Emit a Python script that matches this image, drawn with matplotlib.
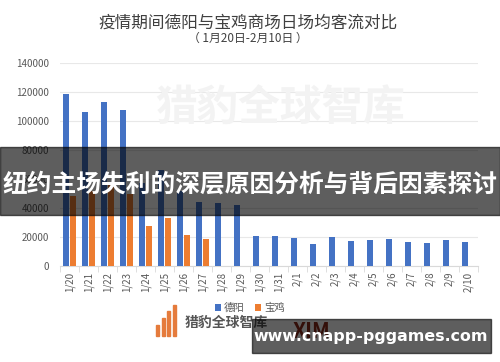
import numpy as np
import matplotlib
matplotlib.use('Agg')
import matplotlib.pyplot as plt
from matplotlib.patches import Rectangle

plt.rcParams['font.family'] = ['Noto Sans CJK SC', 'DejaVu Sans']

# dados (客流, pessoas por dia)
datas = ['1/20', '1/21', '1/22', '1/23', '1/24', '1/25', '1/26', '1/27', '1/28', '1/29', '1/30',
         '1/31', '2/1', '2/2', '2/3', '2/4', '2/5', '2/6', '2/7', '2/8', '2/9', '2/10']
deyang = [118500, 106500, 113300, 107500, 57000, 66000, 52000, 44300, 43700, 42000, 20700,
          20700, 19100, 15200, 19800, 17200, 17900, 18900, 16600, 16100, 17900, 16300]
baoji = [48000, 52000, 58000, 50000, 27800, 33300, 21400, 18600, np.nan, np.nan, np.nan,
         np.nan, np.nan, np.nan, np.nan, np.nan, np.nan, np.nan, np.nan, np.nan, np.nan, np.nan]
yticks = [0, 20000, 40000, 60000, 80000, 100000, 120000, 140000]

cinza = '#595959'
fig = plt.figure(figsize=(5, 3.62), dpi=100)
ax = fig.add_axes([0.12, 0.265, 0.836, 0.561])

# marca d'agua de fundo
fig.text(0.56, 0.70, '猎豹全球智库', fontsize=30, fontweight='bold', color='#f3f3f3',
         ha='center', va='center', zorder=0)

x = np.arange(len(datas))
ax.bar(x - 0.2, deyang, width=0.32, color='#4472C4', label='德阳', zorder=3)
ax.bar(x + 0.2, baoji, width=0.32, color='#ED7D31', label='宝鸡', zorder=3)

ax.set_xlim(-0.5, len(datas) - 0.5)
ax.set_ylim(0, 140000)
ax.set_yticks(yticks)
ax.set_yticklabels([str(v) for v in yticks], fontsize=7, color=cinza)
ax.set_xticks(x)
ax.set_xticklabels(datas, rotation=90, fontsize=7, color=cinza)
ax.set_xticks(np.arange(len(datas) + 1) - 0.5, minor=True)
ax.tick_params(axis='x', which='major', length=0, pad=4)
ax.tick_params(axis='x', which='minor', length=4, color='#d9d9d9')
ax.tick_params(axis='y', length=0, pad=8)
ax.grid(axis='y', color='#e8e8e8', linewidth=0.8, zorder=0)
ax.set_axisbelow(True)
for s in ['top', 'right', 'left']:
    ax.spines[s].set_visible(False)
ax.spines['bottom'].set_color('#d9d9d9')
ax.patch.set_alpha(0)

fig.text(0.496, 0.937, '疫情期间德阳与宝鸡商场日场均客流对比', fontsize=12, color='#404040',
         ha='center', va='center')
fig.text(0.496, 0.895, '（ 1月20日-2月10日 ）', fontsize=8.5, color='#404040', ha='center', va='center')

fig.legend(loc='center', bbox_to_anchor=(0.5, 0.149), ncol=2, frameon=False, fontsize=7.5,
           handlelength=0.6, handleheight=0.6, handletextpad=0.3, columnspacing=1.0,
           labelcolor=cinza)

# logo inferior
for i, h in enumerate([0.03, 0.05, 0.07, 0.085]):
    fig.add_artist(Rectangle((0.312 + i * 0.011, 0.072), 0.006, h, color='#E57B3C',
                             transform=fig.transFigure))
fig.text(0.37, 0.107, '猎豹全球智库', fontsize=10, fontweight='bold', color='#555555',
         ha='left', va='center')
fig.text(0.623, 0.085, 'XIM', fontsize=15, fontweight='bold', color='#8b2a1a',
         ha='center', va='center')

# faixa sobreposta
fig.add_artist(Rectangle((0, 1 - 215 / 362), 1, 68 / 362, color='black', alpha=0.63,
                         transform=fig.transFigure, zorder=10))
fig.text(0.5, 0.49, '纽约主场失利的深层原因分析与背后因素探讨', fontsize=17.8,
         fontweight='bold', color='white', ha='center', va='center', zorder=11)

fig.add_artist(Rectangle((252 / 500, 1 - 353 / 362), 239 / 500, 34 / 362, color='black',
                         alpha=0.63, transform=fig.transFigure, zorder=10))
fig.text(371 / 500, 1 - 336 / 362, 'www.cnapp-pggames.com', fontsize=11.4, fontweight='bold',
         color='white', ha='center', va='center', zorder=11, family='DejaVu Sans')

fig.savefig('out.png', dpi=100)
